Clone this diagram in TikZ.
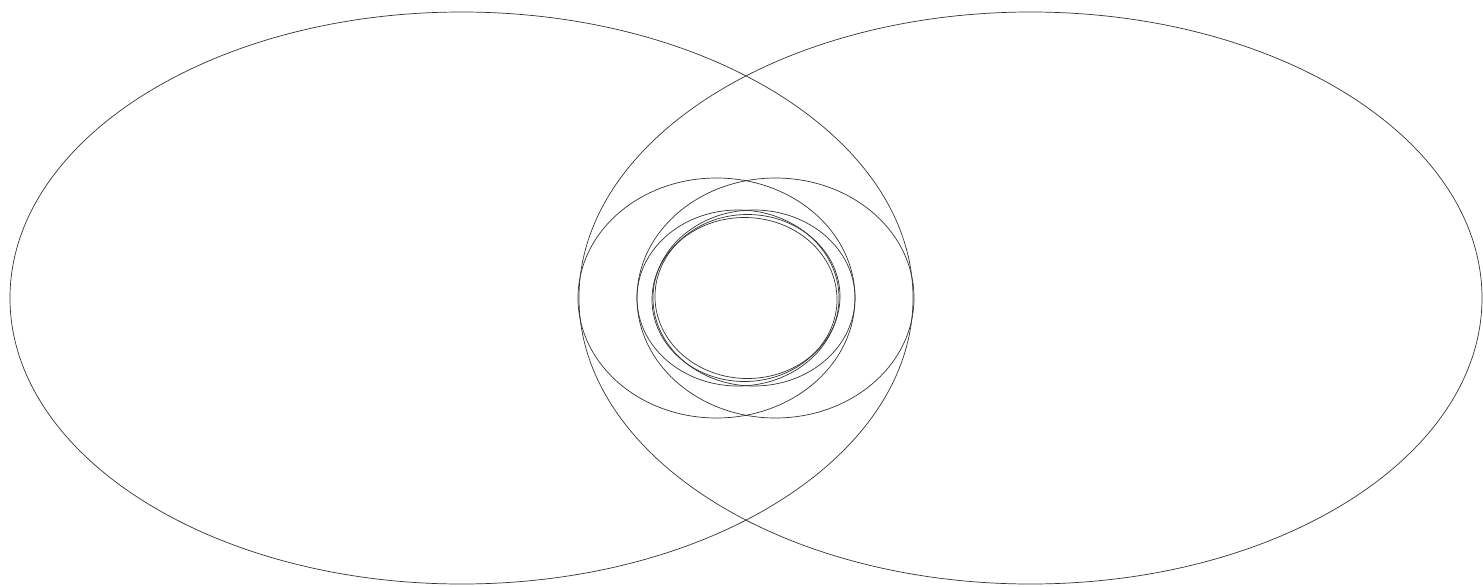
\documentclass[tikz,border=0pt]{standalone}
\usepackage{tikz}

\begin{document}
\begin{tikzpicture}[x=0.02cm,y=0.02cm,line width=0.4pt]
\tikzstyle{ring} = [draw=black!80]

\useasboundingbox (-746,-288) rectangle (737,298);

\coordinate (centre) at (0,0);

% Outer pair
\draw[ring] ([xshift=-284.5*0.02cm]centre) ellipse [x radius=451.5, y radius=286];
\draw[ring] ([xshift=284.5*0.02cm]centre) ellipse [x radius=451.5, y radius=286];

% Inner pairs
\foreach \a/\b/\dx/\dy in {138.5/120/29.5/0, 101/88/8/0, 92.5/82/1.5/1.5}
{
  \draw[ring] ([shift={(-\dx*0.02cm,-\dy*0.02cm)}]centre) ellipse [x radius=\a, y radius=\b];
  \draw[ring] ([shift={(\dx*0.02cm,\dy*0.02cm)}]centre) ellipse [x radius=\a, y radius=\b];
}

\end{tikzpicture}
\end{document}
